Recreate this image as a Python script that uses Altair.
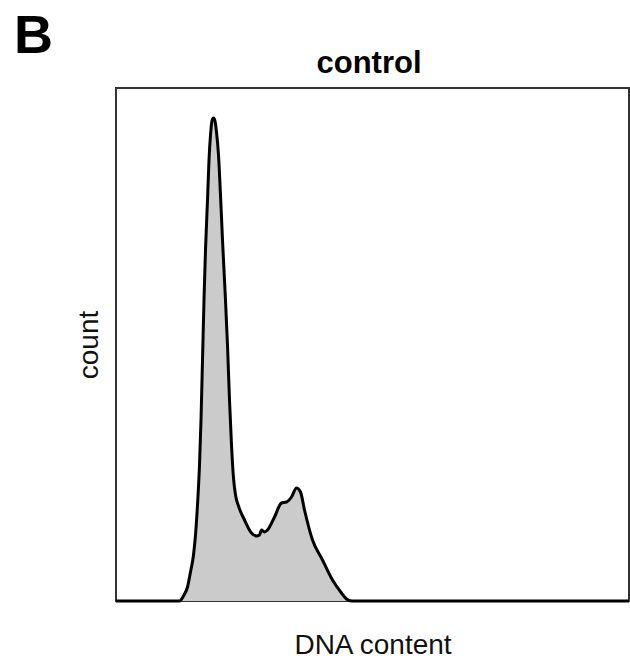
import altair as alt
import pandas as pd

# DNA content channel (0..1026) and cell count
dna = [0, 127, 135, 143, 149, 155, 159, 163, 167, 170, 173, 176, 179, 183, 186, 189,
       192, 195, 198, 201, 205, 209, 213, 218, 223, 227, 231, 235, 239, 245, 257,
       271, 281, 287, 291, 297, 303, 317, 331, 341, 351, 361, 369, 377, 393, 413,
       433, 451, 461, 471, 1026]
count = [0, 0, 5, 14, 29, 46, 66, 96, 136, 181, 241, 301, 351, 401, 441, 466,
         480, 483, 480, 469, 446, 406, 361, 311, 256, 201, 156, 123, 106, 95, 81,
         68, 65, 66, 71, 69, 71, 84, 98, 99, 104, 113, 109, 91, 61, 41,
         21, 8, 2, 0, 0]

df = pd.DataFrame({"dna": dna, "count": count})

xs = alt.Scale(domain=[0, 1026], nice=False, zero=False)
ys = alt.Scale(domain=[0, 513], nice=False)

xax = alt.Axis(title="DNA content", labels=False, ticks=False, domain=False, grid=False,
               titleFont="Liberation Sans", titleFontSize=28, titleFontWeight="normal",
               titleColor="#111111", titlePadding=30)
yax = alt.Axis(title="count", labels=False, ticks=False, domain=False, grid=False,
               titleFont="Liberation Sans", titleFontSize=28, titleFontWeight="normal",
               titleColor="#111111", titlePadding=13)

area = alt.Chart(df).mark_area(color="#cbcbcb", interpolate="monotone", clip=True).encode(
    x=alt.X("dna:Q", scale=xs, axis=xax),
    y=alt.Y("count:Q", scale=ys, axis=yax),
)
line = alt.Chart(df).mark_line(color="black", strokeWidth=3, interpolate="monotone").encode(
    x=alt.X("dna:Q", scale=xs),
    y=alt.Y("count:Q", scale=ys),
)
label = alt.Chart(pd.DataFrame({"t": ["B"]})).mark_text(
    font="Liberation Sans", fontSize=54, fontWeight="bold", align="left",
    baseline="alphabetic", color="black", clip=False
).encode(x=alt.value(-102), y=alt.value(-35), text="t:N")
title = alt.Chart(pd.DataFrame({"t": ["control"]})).mark_text(
    font="Liberation Sans", fontSize=31, fontWeight="bold", align="center",
    baseline="alphabetic", color="black", clip=False
).encode(x=alt.value(253), y=alt.value(-15), text="t:N")

chart = alt.layer(area, line, label, title).properties(
    width=513, height=513,
    autosize=alt.AutoSizeParams(type="none"),
    padding={"left": 116, "top": 88, "right": 1, "bottom": 59},
).configure_view(stroke="#333333", strokeWidth=2)

chart.save("out.html", embed_options={"renderer": "svg", "actions": False})
